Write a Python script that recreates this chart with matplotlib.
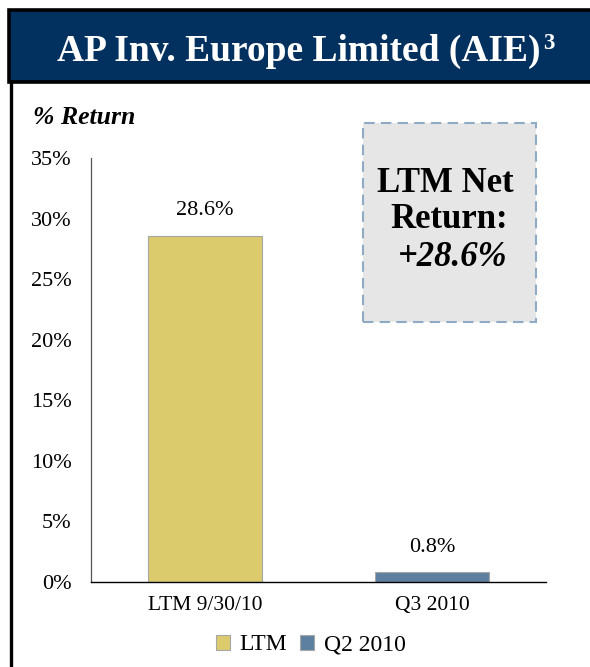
import matplotlib
matplotlib.use("Agg")
import matplotlib.pyplot as plt
from matplotlib.patches import Rectangle, Patch
from matplotlib.lines import Line2D

# data
categories = ["LTM 9/30/10", "Q3 2010"]
returns = [28.6, 0.8]
bar_colors = ["#dbcb6c", "#5e80a0"]
legend_labels = ["LTM", "Q2 2010"]
yticks = [0, 5, 10, 15, 20, 25, 30, 35]

plt.rcParams["font.family"] = ["Liberation Serif", "DejaVu Serif"]

navy = "#03315f"
fs = 16

fig = plt.figure(figsize=(5.9, 6.67), dpi=100)

# title banner
fig.patches.append(Rectangle((9 / 590, 1 - 82 / 667), 1.05, 72 / 667,
                             transform=fig.transFigure, facecolor=navy,
                             edgecolor="black", linewidth=2.6, zorder=0))
fig.lines.append(Line2D([11 / 590, 11 / 590], [0, 1 - 82 / 667],
                        transform=fig.transFigure, color="black", linewidth=2.4))
title = fig.text(299 / 590, 1 - 61 / 667, "AP Inv. Europe Limited (AIE)",
                 ha="center", va="baseline", color="white", fontsize=27, fontweight="bold")
fig.canvas.draw()
bb = title.get_window_extent()
fig.text(bb.x1 / 590 + 2 / 590, 1 - 49 / 667, "3", ha="left", va="baseline",
         color="white", fontsize=16.5, fontweight="bold")

fig.text(33 / 590, 1 - 124 / 667, "% Return", ha="left", va="baseline",
         fontsize=18.5, fontweight="bold", fontstyle="italic")

ax = fig.add_axes([91 / 590, 1 - 582 / 667, 455 / 590, 424 / 667])
x = range(len(categories))
bars = ax.bar(x, returns, width=0.5, color=bar_colors, edgecolor="#a6a6a6", linewidth=0.8)
for b, v in zip(bars, returns):
    ax.annotate(f"{v:.1f}%", (b.get_x() + b.get_width() / 2, v), xytext=(0, 11),
                textcoords="offset points", ha="center", va="bottom", fontsize=fs)

ax.set_xlim(-0.5, 1.5)
ax.set_ylim(0, 35)
ax.set_yticks(yticks)
ax.set_yticklabels([f"{t}%" for t in yticks], fontsize=fs)
ax.set_xticks(list(x))
ax.set_xticklabels(categories, fontsize=15.5)
ax.tick_params(axis="y", length=0, pad=14)
ax.tick_params(axis="x", length=0, pad=10)
for s in ["top", "right"]:
    ax.spines[s].set_visible(False)
ax.spines["left"].set_color("#555555")
ax.spines["left"].set_linewidth(0.9)
ax.spines["bottom"].set_color("black")
ax.spines["bottom"].set_linewidth(1.0)

# callout box
fig.patches.append(Rectangle((363 / 590, 1 - 322 / 667), 173 / 590, 199 / 667,
                             transform=fig.transFigure, facecolor="#e6e6e6",
                             edgecolor="#8eaac4", linewidth=1.5, linestyle=(0, (5, 3)),
                             zorder=3))
fig.text(445 / 590, 1 - 183 / 667, "LTM Net", ha="center", va="center",
         fontsize=25, fontweight="bold", zorder=4)
fig.text(449 / 590, 1 - 219 / 667, "Return:", ha="center", va="center",
         fontsize=25, fontweight="bold", zorder=4)
fig.text(453 / 590, 1 - 257 / 667, "+28.6%", ha="center", va="center",
         fontsize=25, fontweight="bold", fontstyle="italic", zorder=4)

handles = [Patch(facecolor=c, edgecolor="#a6a6a6", linewidth=0.8) for c in bar_colors]
fig.legend(handles, legend_labels, loc="center", bbox_to_anchor=(0.527, 1 - 645 / 667),
           ncol=2, frameon=False, fontsize=17, handlelength=0.6, handleheight=0.6,
           handletextpad=0.4, columnspacing=0.55)

fig.savefig("out.png", dpi=100)
